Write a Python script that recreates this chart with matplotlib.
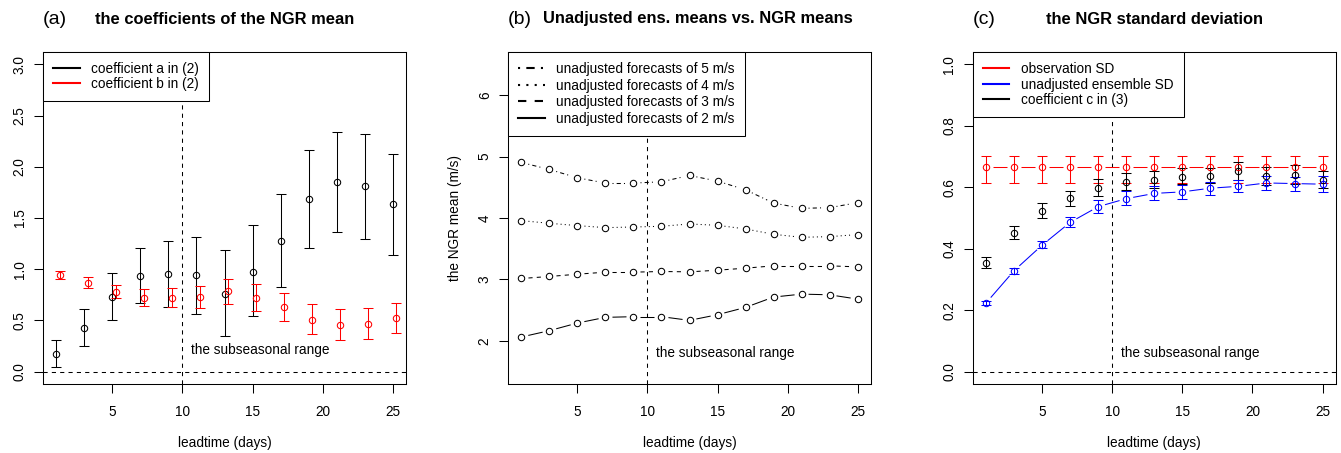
import numpy as np
import matplotlib
matplotlib.use("Agg")
from matplotlib import pyplot as plt
from matplotlib.collections import LineCollection
from matplotlib.lines import Line2D

plt.rcParams['font.family'] = ['Liberation Sans', 'DejaVu Sans']
plt.rcParams['font.size'] = 9.8

# leadtimes (days)
leadtime = [1, 3, 5, 7, 9, 11, 13, 15, 17, 19, 21, 23, 25]

# (a) coefficients of the NGR mean, with intervals
coef_a = [0.175, 0.427, 0.728, 0.932, 0.955, 0.94, 0.76, 0.977, 1.272, 1.684, 1.855, 1.81, 1.635]
coef_a_lo = [0.05, 0.25, 0.50, 0.667, 0.628, 0.566, 0.353, 0.54, 0.828, 1.204, 1.366, 1.298, 1.139]
coef_a_hi = [0.31, 0.615, 0.964, 1.21, 1.28, 1.317, 1.184, 1.427, 1.735, 2.165, 2.339, 2.32, 2.126]
coef_b = [0.942, 0.864, 0.777, 0.718, 0.718, 0.728, 0.783, 0.718, 0.631, 0.508, 0.456, 0.469, 0.521]
coef_b_lo = [0.906, 0.816, 0.715, 0.644, 0.628, 0.618, 0.657, 0.589, 0.498, 0.369, 0.314, 0.32, 0.375]
coef_b_hi = [0.984, 0.925, 0.851, 0.806, 0.819, 0.841, 0.906, 0.858, 0.77, 0.657, 0.608, 0.625, 0.67]

# (b) NGR means for unadjusted forecasts of 5,4,3,2 m/s
ngr_5 = [4.903, 4.789, 4.654, 4.568, 4.568, 4.589, 4.692, 4.6, 4.459, 4.243, 4.157, 4.168, 4.249]
ngr_4 = [3.957, 3.914, 3.876, 3.843, 3.854, 3.865, 3.903, 3.881, 3.822, 3.735, 3.686, 3.697, 3.73]
ngr_3 = [3.016, 3.049, 3.086, 3.119, 3.119, 3.13, 3.124, 3.151, 3.184, 3.222, 3.222, 3.222, 3.205]
ngr_2 = [2.065, 2.168, 2.292, 2.384, 2.395, 2.395, 2.335, 2.427, 2.546, 2.714, 2.762, 2.751, 2.681]

# (c) standard deviations
obs_sd = [0.665] * 13
obs_sd_lo = [0.613] * 13
obs_sd_hi = [0.702] * 13
ens_sd = [0.224, 0.329, 0.412, 0.486, 0.537, 0.563, 0.58, 0.585, 0.597, 0.603, 0.614, 0.612, 0.61]
ens_sd_lo = [0.217, 0.319, 0.401, 0.47, 0.516, 0.541, 0.557, 0.562, 0.575, 0.584, 0.591, 0.589, 0.585]
ens_sd_hi = [0.23, 0.337, 0.424, 0.503, 0.559, 0.589, 0.605, 0.608, 0.617, 0.624, 0.637, 0.635, 0.637]
coef_c = [0.355, 0.452, 0.524, 0.564, 0.597, 0.618, 0.624, 0.635, 0.636, 0.652, 0.638, 0.641, 0.625]
coef_c_lo = [0.338, 0.432, 0.5, 0.54, 0.572, 0.59, 0.598, 0.61, 0.615, 0.624, 0.608, 0.612, 0.597]
coef_c_hi = [0.372, 0.474, 0.548, 0.589, 0.626, 0.648, 0.653, 0.664, 0.664, 0.682, 0.667, 0.672, 0.654]

LW = 0.75
MS = 4.6
W, H = 1341, 453

fig = plt.figure(figsize=(13.41, 4.53), dpi=100)


def px_axes(l, t, r, b):
    return fig.add_axes([l / W, 1 - b / H, (r - l) / W, (b - t) / H])


def style(ax, ylim, yticks, ylabels):
    # R style 4% padding around the ranges
    lo, hi = ylim
    pad = 0.04 * (hi - lo)
    ax.set_xlim(1 - 0.96, 25 + 0.96)
    ax.set_ylim(lo - pad, hi + pad)
    ax.set_xticks([5, 10, 15, 20, 25])
    ax.set_yticks(yticks)
    ax.set_yticklabels(ylabels, rotation=90, va='center')
    ax.tick_params(direction='out', length=6.8, width=LW)
    ax.tick_params(axis='x', pad=8.4)
    ax.tick_params(axis='y', pad=4.9)
    for s in ax.spines.values():
        s.set_linewidth(LW)
    ax.set_xlabel('leadtime (days)')
    ax.xaxis.set_label_coords(0.5, -58.7 / 332)
    ax.xaxis.label.set_va('center')
    ax.axvline(10, color='black', lw=LW, ls=(0, (4, 4)), zorder=1)


#lines with gaps around the points, like type="b"
def gapped_line(ax, x, y, gap=7.0, **kw):
    pts = ax.transData.transform(np.column_stack([x, y]))
    inv = ax.transData.inverted()
    segs = []
    for p0, p1 in zip(pts[:-1], pts[1:]):
        d = p1 - p0
        n = np.hypot(d[0], d[1])
        if n <= 2 * gap:
            continue
        u = d / n
        segs.append(inv.transform(np.array([p0 + u * gap, p1 - u * gap])))
    ax.add_collection(LineCollection(segs, linewidths=LW, **kw))


def err(ax, x, y, lo, hi, color):
    y = np.array(y)
    yerr = [y - np.array(lo), np.array(hi) - y]
    ax.errorbar(x, y, yerr=yerr, fmt='o', mfc='none', mec=color, ms=MS, mew=LW,
                ecolor=color, elinewidth=LW, capsize=3.6, capthick=LW, zorder=3)


def legend(ax, handles, labels, spacing=0.1):
    lg = ax.legend(handles, labels, loc='upper left', bbox_to_anchor=(0, 1),
                   borderaxespad=0, fancybox=False, edgecolor='black', framealpha=1,
                   handlelength=1.95, handletextpad=0.85, borderpad=0.75, labelspacing=spacing)
    lg.get_frame().set_linewidth(LW)
    return lg


x = np.array(leadtime)

# panel (a)
ax_a = px_axes(43, 52, 406, 384)
style(ax_a, (0, 3), [0, 0.5, 1, 1.5, 2, 2.5, 3], ['0.0', '0.5', '1.0', '1.5', '2.0', '2.5', '3.0'])
ax_a.axhline(0, color='black', lw=LW, ls=(0, (4, 4)), zorder=1)
err(ax_a, x, coef_a, coef_a_lo, coef_a_hi, 'black')
err(ax_a, x + 0.25, coef_b, coef_b_lo, coef_b_hi, 'red')
ax_a.text(10.6, 0.21, 'the subseasonal range', ha='left', va='center')
legend(ax_a, [Line2D([], [], color='black', lw=1.5), Line2D([], [], color='red', lw=1.5)],
       ['coefficient a in (2)', 'coefficient b in (2)'], 0.05)

# panel (b)
ax_b = px_axes(508, 52, 871, 384)
style(ax_b, (1.5, 6.5), [2, 3, 4, 5, 6], ['2', '3', '4', '5', '6'])
ax_b.set_ylabel('the NGR mean (m/s)')
ax_b.yaxis.set_label_coords(-53 / 363, 0.5)
ax_b.yaxis.label.set_va('center')
styles_b = [(0, (1, 3, 4, 3)), (0, (1, 3)), (0, (4, 4)), 'solid']
for vals, ls in zip([ngr_5, ngr_4, ngr_3, ngr_2], styles_b):
    gapped_line(ax_b, x, vals, colors='black', linestyles=[ls])
    ax_b.plot(x, vals, 'o', mfc='none', mec='black', ms=MS, mew=LW, zorder=3)
ax_b.text(10.6, 1.805, 'the subseasonal range', ha='left', va='center')
legend(ax_b, [Line2D([], [], color='black', lw=1.5, ls=ls) for ls in styles_b],
       ['unadjusted forecasts of 5 m/s', 'unadjusted forecasts of 4 m/s',
        'unadjusted forecasts of 3 m/s', 'unadjusted forecasts of 2 m/s'], 0.18)

# panel (c)
ax_c = px_axes(972.7, 52, 1336, 384)
style(ax_c, (0, 1), [0, 0.2, 0.4, 0.6, 0.8, 1.0], ['0.0', '0.2', '0.4', '0.6', '0.8', '1.0'])
ax_c.axhline(0, color='black', lw=LW, ls=(0, (4, 4)), zorder=1)
gapped_line(ax_c, x, obs_sd, colors='red')
err(ax_c, x, obs_sd, obs_sd_lo, obs_sd_hi, 'red')
err(ax_c, x, coef_c, coef_c_lo, coef_c_hi, 'black')
gapped_line(ax_c, x, ens_sd, colors='blue')
err(ax_c, x, ens_sd, ens_sd_lo, ens_sd_hi, 'blue')
ax_c.text(10.6, 0.062, 'the subseasonal range', ha='left', va='center')
legend(ax_c, [Line2D([], [], color=c, lw=1.5) for c in ['red', 'blue', 'black']],
       ['observation SD', 'unadjusted ensemble SD', 'coefficient c in (3)'], 0.1)

# titles
ty = 1 - 23.5 / H
fig.text(43 / W, ty, '(a)', fontsize=14, ha='left', va='baseline')
fig.text(225 / W, ty, 'the coefficients of the NGR mean', fontsize=11.9, fontweight='bold', ha='center', va='baseline')
fig.text(508 / W, ty, '(b)', fontsize=14, ha='left', va='baseline')
fig.text(697.5 / W, ty, 'Unadjusted ens. means vs. NGR means', fontsize=11.9, fontweight='bold', ha='center', va='baseline')
fig.text(973 / W, ty, '(c)', fontsize=14, ha='left', va='baseline')
fig.text(1154.5 / W, ty, 'the NGR standard deviation', fontsize=11.9, fontweight='bold', ha='center', va='baseline')

fig.savefig('out.png', dpi=100)
